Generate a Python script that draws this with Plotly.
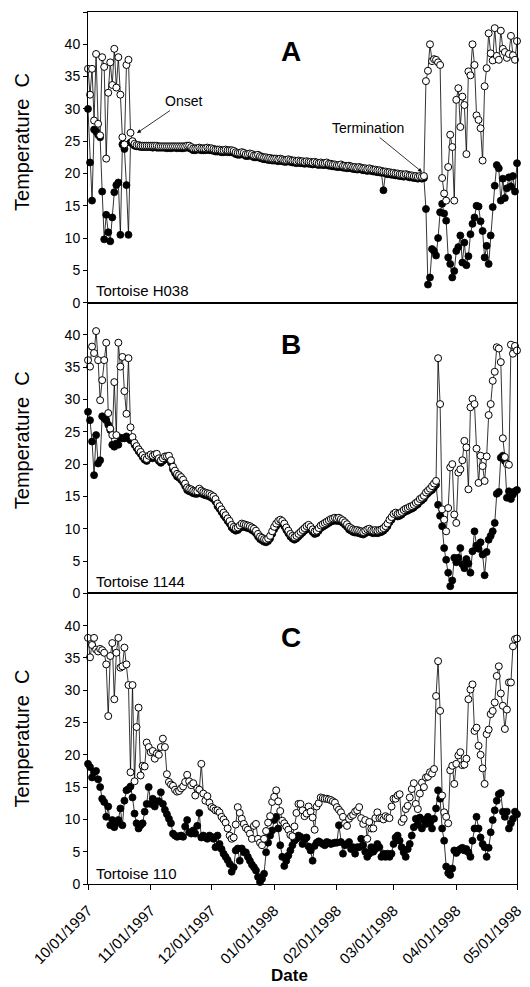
import pandas as pd
import plotly.graph_objects as go
from plotly.subplots import make_subplots

# ---------------- data (daily, 10/01/1997 .. 05/01/1998) ----------------
start_date = "1997-10-01"
end_date = "1998-05-01"

a_max = [36.2, 32.2, 36.2, 28.2, 38.5, 27.7, 25.9, 38.0, 36.5, 22.3,
         32.5, 37.2, 33.7, 39.3, 33.3, 38.0, 32.2, 25.6, 24.5, 36.8,
         37.6, 26.3, 25.0, 24.6, 24.4, 24.4, 24.3, 24.3, 24.3, 24.3,
         24.3, 24.3, 24.3, 24.3, 24.3, 24.2, 24.2, 24.2, 24.2, 24.2,
         24.2, 24.2, 24.2, 24.2, 24.2, 24.2, 24.2, 24.2, 24.2, 24.3,
         24.3, 24.1, 23.9, 23.9, 23.9, 24.0, 23.9, 23.9, 23.9, 24.0,
         23.9, 23.9, 23.8, 23.7, 23.7, 23.7, 23.6, 23.6, 23.7, 23.6,
         23.6, 23.6, 23.5, 23.3, 23.2, 23.2, 23.3, 23.2, 23.0, 23.0,
         23.1, 23.0, 22.8, 22.8, 22.9, 22.7, 22.6, 22.5, 22.5, 22.4,
         22.4, 22.3, 22.3, 22.3, 22.2, 22.3, 22.2, 22.1, 22.1, 22.2,
         22.1, 22.0, 22.0, 21.9, 22.0, 21.9, 21.9, 21.8, 21.9, 21.8,
         21.8, 21.7, 21.8, 21.7, 21.6, 21.7, 21.6, 21.6, 21.7, 21.5,
         21.5, 21.4, 21.4, 21.3, 21.3, 21.4, 21.2, 21.2, 21.1, 21.2,
         21.1, 21.0, 21.0, 20.9, 21.0, 20.9, 20.8, 20.8, 20.7, 20.8,
         20.7, 20.6, 20.6, 20.5, 20.5, 20.4, 20.3, 20.3, 20.2, 20.2,
         20.1, 20.1, 20.0, 20.0, 19.9, 19.9, 19.8, 19.9, 19.8, 19.7,
         19.7, 19.6, 19.6, 19.5, 19.6, 19.5, 19.6, 34.3, 35.9, 40.0,
         37.4, 37.7, 37.6, 37.2, 36.8, 19.3, 16.9, 15.8, 21.0, 26.0,
         24.1, 15.8, 31.4, 33.2, 27.2, 31.9, 30.6, 23.0, 35.8, 35.2,
         40.0, 36.8, 29.0, 28.3, 27.0, 22.0, 33.5, 36.3, 41.7, 38.6,
         37.5, 42.5, 38.2, 37.6, 42.1, 39.3, 38.8, 37.9, 38.5, 41.3,
         38.3, 37.6, 40.5]

a_min = [30.0, 21.7, 15.8, 26.8, 26.5, 26.0, 25.6, 17.2, 9.8, 13.6,
         10.9, 9.5, 13.2, 17.1, 18.2, 18.6, 10.5, 24.5, 23.8, 18.2,
         10.5, 24.8, 24.6, 24.3, 24.2, 24.2, 24.1, 24.1, 24.1, 24.1,
         24.1, 24.1, 24.0, 24.1, 24.0, 24.0, 24.0, 24.0, 24.0, 23.9,
         24.0, 23.9, 24.0, 24.0, 23.9, 24.0, 23.9, 23.9, 24.0, 24.0,
         24.0, 23.8, 23.6, 23.6, 23.7, 23.7, 23.6, 23.6, 23.6, 23.7,
         23.6, 23.6, 23.5, 23.4, 23.4, 23.4, 23.3, 23.3, 23.4, 23.3,
         23.3, 23.3, 23.2, 23.0, 22.9, 22.9, 23.0, 22.9, 22.7, 22.7,
         22.8, 22.7, 22.5, 22.5, 22.6, 22.4, 22.3, 22.2, 22.2, 22.1,
         22.1, 22.0, 22.0, 22.0, 21.9, 22.0, 21.9, 21.8, 21.8, 21.9,
         21.8, 21.7, 21.7, 21.6, 21.7, 21.6, 21.6, 21.5, 21.6, 21.5,
         21.5, 21.4, 21.5, 21.4, 21.3, 21.4, 21.3, 21.3, 21.4, 21.2,
         21.2, 21.1, 21.1, 21.0, 21.0, 21.1, 20.9, 20.9, 20.8, 20.9,
         20.8, 20.7, 20.7, 20.6, 20.7, 20.6, 20.5, 20.5, 20.4, 20.5,
         20.4, 20.3, 20.3, 20.2, 20.2, 20.1, 17.4, 20.0, 19.9, 19.9,
         19.8, 19.8, 19.7, 19.7, 19.6, 19.6, 19.5, 19.6, 19.5, 19.4,
         19.4, 19.3, 19.3, 19.2, 19.3, 19.2, 19.3, 14.5, 2.8, 3.9,
         8.3, 8.0, 7.3, 10.0, 14.0, 15.3, 13.8, 12.7, 7.0, 6.0,
         3.9, 4.9, 8.0, 8.6, 10.4, 6.2, 9.3, 5.8, 7.2, 10.6,
         12.2, 13.2, 15.0, 14.9, 12.6, 11.1, 7.0, 8.8, 6.0, 10.4,
         14.8, 18.1, 21.3, 20.8, 15.8, 19.2, 16.2, 17.7, 19.4, 18.0,
         19.6, 17.2, 21.6]

b_max = [36.1, 35.1, 38.2, 37.2, 40.6, 36.1, 29.9, 33.0, 36.1, 38.8,
         27.9, 25.5, 24.5, 32.7, 24.5, 38.8, 35.1, 36.6, 31.3, 27.8,
         36.4, 25.7, 24.2, 23.3, 22.8, 22.3, 21.9, 21.4, 21.0, 20.8,
         21.3, 21.5, 21.3, 21.5, 21.6, 20.9, 20.6, 20.9, 21.2, 21.2,
         21.3, 20.6, 19.6, 19.0, 18.5, 18.3, 18.0, 17.6, 17.0, 16.4,
         16.2, 16.1, 15.9, 15.8, 15.8, 16.2, 15.9, 15.7, 15.6, 15.5,
         15.4, 15.2, 15.0, 14.6, 13.9, 13.5, 13.0, 12.5, 12.1, 11.6,
         11.2, 10.6, 10.3, 10.1, 10.2, 10.5, 10.8, 10.7, 10.6, 10.5,
         10.4, 10.2, 10.0, 9.7, 9.2, 8.8, 8.6, 8.4, 8.3, 8.5,
         8.9, 9.6, 10.3, 10.8, 11.2, 11.4, 11.2, 10.8, 10.2, 9.7,
         9.2, 8.9, 8.7, 8.9, 9.2, 9.5, 9.8, 10.1, 10.4, 10.6,
         10.3, 9.9, 9.6, 9.7, 10.1, 10.5, 10.7, 10.9, 11.1, 11.3,
         11.5, 11.6, 11.7, 11.6, 11.7, 11.5, 11.3, 11.0, 10.7, 10.3,
         10.1, 9.9, 9.8, 9.8, 9.7, 9.6, 9.5, 9.7, 9.9, 10.0,
         9.8, 9.7, 9.8, 9.7, 9.8, 9.9, 10.1, 10.4, 10.8, 11.4,
         11.8, 12.3, 12.5, 12.3, 12.4, 12.6, 12.9, 13.1, 13.2, 13.4,
         13.5, 13.7, 14.0, 14.2, 14.6, 14.8, 15.1, 15.6, 15.9, 16.2,
         16.6, 17.0, 17.4, 36.4, 29.3, 13.0, 11.4, 9.6, 13.2, 19.5,
         20.0, 12.2, 10.9, 18.7, 19.2, 20.6, 23.6, 22.6, 16.1, 28.8,
         30.1, 29.3, 22.4, 17.1, 21.3, 19.7, 17.4, 21.2, 27.6, 29.3,
         32.9, 34.3, 38.1, 37.9, 35.8, 24.0, 21.1, 20.0, 19.9, 38.5,
         37.1, 38.3, 37.6]

b_min = [28.1, 26.8, 23.5, 18.3, 24.5, 20.1, 20.6, 27.4, 27.1, 26.8,
         26.1, 25.3, 23.0, 22.7, 23.2, 23.0, 24.1, 24.0, 24.0, 24.3,
         24.0, 23.7, 23.7, 23.0, 22.5, 22.0, 21.6, 21.1, 20.7, 20.5,
         20.9, 21.1, 20.9, 21.1, 21.2, 20.5, 20.2, 20.5, 20.8, 20.8,
         20.9, 20.2, 19.2, 18.6, 18.1, 17.9, 17.6, 17.2, 16.6, 16.0,
         15.8, 15.7, 15.5, 15.4, 15.4, 15.8, 15.5, 15.3, 15.2, 15.1,
         15.0, 14.8, 14.6, 14.2, 13.5, 13.1, 12.6, 12.1, 11.7, 11.2,
         10.8, 10.2, 9.9, 9.7, 9.8, 10.1, 10.4, 10.3, 10.2, 10.1,
         10.0, 9.8, 9.6, 9.3, 8.8, 8.4, 8.2, 8.0, 7.9, 8.1,
         8.5, 9.2, 9.9, 10.4, 10.8, 11.0, 10.8, 10.4, 9.8, 9.3,
         8.8, 8.5, 8.3, 8.5, 8.8, 9.1, 9.4, 9.7, 10.0, 10.2,
         9.9, 9.5, 9.2, 9.3, 9.7, 10.1, 10.3, 10.5, 10.7, 10.9,
         11.1, 11.2, 11.3, 11.2, 11.3, 11.1, 10.9, 10.6, 10.3, 9.9,
         9.7, 9.5, 9.4, 9.4, 9.3, 9.2, 9.1, 9.3, 9.5, 9.6,
         9.4, 9.3, 9.4, 9.3, 9.4, 9.5, 9.7, 10.0, 10.4, 11.0,
         11.4, 11.9, 12.1, 11.9, 12.0, 12.2, 12.5, 12.7, 12.8, 13.0,
         13.1, 13.3, 13.6, 13.8, 14.2, 14.4, 14.7, 15.2, 15.5, 15.8,
         16.0, 16.4, 16.8, 13.7, 12.0, 10.4, 7.0, 5.2, 3.2, 1.1,
         2.0, 5.5, 4.8, 5.5, 7.0, 4.5, 3.9, 5.3, 4.6, 3.2,
         6.5, 9.6, 7.4, 6.9, 7.9, 6.0, 2.8, 6.4, 8.3, 8.9,
         9.6, 10.9, 15.4, 15.7, 21.0, 21.3, 20.5, 14.8, 15.8, 14.6,
         15.3, 15.8, 16.0]

c_max = [38.1, 35.1, 37.0, 38.1, 36.3, 36.0, 36.4, 36.2, 35.8, 34.0,
         26.0, 35.3, 37.3, 28.6, 35.8, 38.1, 33.5, 33.7, 36.6, 34.0,
         30.8, 17.3, 30.8, 15.9, 24.3, 27.3, 16.8, 18.3, 18.2, 21.9,
         21.2, 20.4, 20.6, 19.4, 20.2, 20.0, 21.2, 22.5, 21.2, 17.0,
         15.8, 15.4, 15.2, 14.6, 14.3, 14.4, 14.8, 15.1, 15.8, 16.9,
         15.9, 15.3, 15.6, 13.7, 14.8, 14.6, 18.6, 14.0, 12.9, 13.6,
         12.6, 11.9, 11.7, 11.4, 11.4, 11.1, 10.4, 10.0, 9.5, 8.6,
         7.5, 7.0, 7.2, 9.2, 11.9, 11.0, 10.1, 9.3, 8.7, 8.4,
         7.8, 7.0, 9.0, 9.3, 7.0, 6.4, 6.0, 7.0, 8.2, 9.5,
         10.5, 12.7, 13.5, 14.5, 12.8, 11.3, 9.8, 9.4, 8.9, 8.4,
         7.6, 7.4, 8.9, 11.0, 12.4, 12.4, 11.4, 10.5, 10.9, 12.0,
         11.2, 10.3, 8.4, 12.0, 12.5, 13.4, 13.3, 13.2, 13.2, 13.1,
         13.0, 12.8, 12.6, 11.9, 11.5, 11.1, 10.4, 9.4, 9.0, 10.1,
         10.5, 10.7, 11.2, 11.4, 11.9, 10.2, 9.3, 9.9, 7.0, 9.6,
         8.6, 8.6, 10.2, 11.1, 10.2, 10.2, 10.0, 10.5, 10.3, 10.2,
         12.0, 13.2, 13.2, 13.7, 13.9, 9.6, 10.1, 11.6, 12.1, 13.4,
         14.7, 15.6, 12.4, 11.6, 14.0, 15.7, 15.0, 16.5, 16.6, 17.3,
         17.1, 17.8, 29.1, 34.5, 26.8, 13.7, 11.1, 10.4, 9.4, 17.6,
         18.3, 15.5, 18.6, 19.9, 20.4, 18.4, 18.5, 19.4, 28.6, 30.1,
         30.9, 23.7, 24.2, 21.4, 20.0, 17.9, 15.5, 23.2, 23.9, 26.3,
         26.8, 28.1, 32.2, 33.7, 29.5, 27.6, 24.0, 27.0, 31.2, 31.2,
         36.8, 37.9, 38.0]

c_min = [18.6, 18.1, 16.5, 17.3, 17.5, 16.2, 15.0, 13.2, 12.7, 10.4,
         12.0, 9.1, 9.9, 8.8, 9.4, 9.9, 11.7, 9.1, 12.9, 14.5,
         14.7, 15.1, 13.4, 10.9, 9.4, 8.6, 9.1, 9.4, 11.2, 12.4,
         15.0, 12.4, 13.2, 12.0, 12.8, 12.8, 14.2, 12.4, 11.5, 10.8,
         10.1, 9.4, 7.8, 7.5, 7.3, 7.4, 7.5, 7.3, 8.9, 9.9,
         8.0, 7.8, 8.3, 7.8, 9.0, 11.0, 7.2, 7.5, 7.2, 7.0,
         7.5, 7.3, 7.0, 5.7, 7.5, 6.2, 5.4, 4.7, 4.2, 3.7,
         3.1, 1.9, 2.6, 5.2, 5.5, 3.6, 5.5, 4.9, 4.9, 4.2,
         3.6, 3.0, 2.6, 2.1, 1.1, 0.3, 0.8, 1.6, 4.9, 6.4,
         7.5, 8.3, 9.9, 10.4, 8.6, 6.0, 4.2, 2.8, 3.6, 4.4,
         5.2, 6.0, 6.7, 7.0, 7.5, 7.3, 6.2, 6.9, 7.2, 5.8,
         5.2, 3.6, 5.9, 6.4, 6.6, 6.4, 6.2, 6.0, 6.5, 6.4,
         6.2, 6.3, 6.4, 6.4, 9.1, 6.5, 4.7, 6.0, 6.2, 6.5,
         5.4, 5.7, 4.7, 5.7, 5.7, 7.0, 6.0, 5.0, 4.2, 4.7,
         5.7, 5.0, 5.4, 6.2, 5.7, 4.2, 4.7, 4.2, 4.7, 4.2,
         4.7, 6.2, 7.2, 7.5, 6.7, 5.7, 4.9, 4.2, 5.4, 6.2,
         7.5, 8.8, 10.1, 9.2, 10.3, 8.6, 9.9, 9.3, 10.4, 9.4,
         8.6, 10.1, 11.7, 14.5, 13.2, 8.6, 6.7, 2.7, 1.7, 1.4,
         2.4, 5.2, 4.8, 5.2, 5.4, 5.6, 5.2, 5.4, 4.9, 4.2,
         6.7, 8.6, 10.4, 8.6, 7.2, 6.2, 5.7, 4.2, 5.6, 8.0,
         9.9, 11.4, 12.9, 13.9, 14.1, 11.2, 10.4, 11.2, 8.6, 9.4,
         10.1, 11.2, 10.8]

month_ticks = ["1997-10-01", "1997-11-01", "1997-12-01", "1998-01-01",
               "1998-02-01", "1998-03-01", "1998-04-01", "1998-05-01"]
month_labels = ["10/01/1997", "11/01/1997", "12/01/1997", "01/01/1998",
                "02/01/1998", "03/01/1998", "04/01/1998", "05/01/1998"]

panel_letters = ["A", "B", "C"]
tortoise_names = ["Tortoise H038", "Tortoise 1144", "Tortoise 110"]

dates = pd.date_range(start_date, end_date, freq="D")

FONT = "Arial, Liberation Sans, Helvetica, sans-serif"

fig = make_subplots(rows=3, cols=1, shared_xaxes=True, vertical_spacing=0)

series = [(a_min, a_max), (b_min, b_max), (c_min, c_max)]
for i, (smin, smax) in enumerate(series):
    row = i + 1
    fig.add_trace(go.Scatter(
        x=dates, y=smin, mode="lines+markers", cliponaxis=False,
        line=dict(color="black", width=0.8),
        marker=dict(symbol="circle", size=7, color="black",
                    line=dict(color="black", width=0.8)),
        showlegend=False), row=row, col=1)
    fig.add_trace(go.Scatter(
        x=dates, y=smax, mode="lines+markers", cliponaxis=False,
        line=dict(color="black", width=0.8),
        marker=dict(symbol="circle", size=7, color="white",
                    line=dict(color="black", width=1)),
        showlegend=False), row=row, col=1)

for i in range(3):
    row = i + 1
    fig.update_xaxes(
        range=[start_date, end_date], showline=True, linecolor="black",
        linewidth=1, mirror=True, showgrid=False, zeroline=False,
        automargin=False, row=row, col=1)
    yt = list(range(0, 50, 5)) if i == 0 else list(range(0, 45, 5))
    fig.update_yaxes(
        range=[0, 45], tickvals=yt, ticktext=[str(v) for v in yt],
        ticks="outside", ticklen=4, tickcolor="black",
        showline=True, linecolor="black", linewidth=1, mirror=True,
        showgrid=False, zeroline=False, automargin=False,
        tickfont=dict(family=FONT, size=14, color="black"),
        row=row, col=1)

fig.update_xaxes(showticklabels=False, ticks="", row=1, col=1)
fig.update_xaxes(showticklabels=False, ticks="", row=2, col=1)
fig.update_xaxes(tickvals=month_ticks, ticktext=month_labels, tickangle=-45,
                 ticks="outside", ticklen=5, tickcolor="black",
                 showticklabels=True, ticklabelstandoff=6,
                 tickfont=dict(family=FONT, size=15, color="black"),
                 row=3, col=1)

anns = []
letter_y = [0.955, 0.619, 0.283]
name_y = [0.681, 0.3467, 0.0126]
title_y = [0.851, 0.509, 0.167]
for i in range(3):
    anns.append(dict(text="<b>%s</b>" % panel_letters[i], x=0.473, y=letter_y[i],
                     xref="paper", yref="paper", xanchor="center", yanchor="middle",
                     showarrow=False,
                     font=dict(family=FONT, size=28, color="black")))
    anns.append(dict(text=tortoise_names[i], x=0.015, y=name_y[i],
                     xref="paper", yref="paper", xanchor="left", yanchor="middle",
                     showarrow=False, font=dict(family=FONT, size=15, color="black")))
    anns.append(dict(text="Temperature  C", x=-0.1538, y=title_y[i],
                     xref="paper", yref="paper", xanchor="center", yanchor="middle",
                     textangle=-90, showarrow=False,
                     font=dict(family=FONT, size=20, color="black")))

anns.append(dict(text="Onset", x=0.1142, y=0.8612, xref="paper", yref="paper",
                 showarrow=True, ax=47, ay=-32, arrowhead=2, arrowsize=1,
                 arrowwidth=0.8, arrowcolor="black",
                 font=dict(family=FONT, size=14, color="black")))
anns.append(dict(text="Termination", x=0.7786, y=0.8165, xref="paper", yref="paper",
                 showarrow=True, ax=-54, ay=-44, arrowhead=2, arrowsize=1,
                 arrowwidth=0.8, arrowcolor="black",
                 font=dict(family=FONT, size=14, color="black")))
anns.append(dict(text="<b>Date</b>", x=0.47, y=-0.1044, xref="paper", yref="paper",
                 xanchor="center", yanchor="middle",
                 showarrow=False, font=dict(family=FONT, size=17, color="black")))

# the page body adds an 8 px margin, so the figure is sized/offset to fit 530x987
fig.update_layout(
    width=522, height=979,
    margin=dict(l=80, r=13, t=4, b=103),
    paper_bgcolor="white", plot_bgcolor="white",
    annotations=anns, showlegend=False,
    font=dict(family=FONT, color="black"),
)

fig.write_html("out.html")
